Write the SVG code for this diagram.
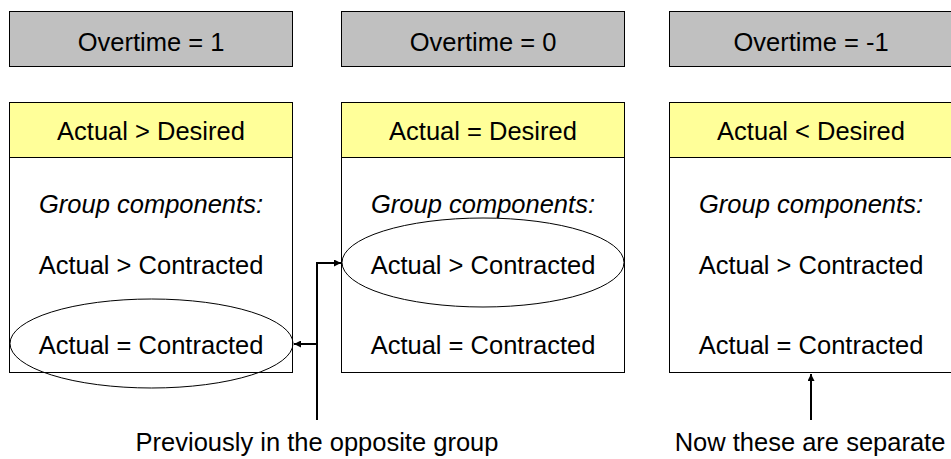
<svg xmlns="http://www.w3.org/2000/svg" width="951" height="459" viewBox="0 0 951 459">
<defs>
<style>
text{font-family:"Liberation Sans",Arial,sans-serif;font-size:25.5px;fill:#000;text-anchor:middle}
.it{font-style:italic}
.top{fill:#C0C0C0;stroke:#000;stroke-width:1}
.hdr{fill:#FFFF99;stroke:#000;stroke-width:1}
.body{fill:#fff;stroke:#000;stroke-width:1}
.ell{fill:none;stroke:#000;stroke-width:1}
.conn{fill:none;stroke:#000;stroke-width:2}
</style>
<marker id="ah" viewBox="0 0 10 10" refX="10" refY="5" markerWidth="4" markerHeight="3.5" orient="auto" markerUnits="strokeWidth">
<path d="M0,0 L10,5 L0,10 z" fill="#000"/>
</marker>
</defs>
<g id="ot1"><rect class="top" x="9.5" y="11.5" width="283" height="55"/><text x="151" y="51">Overtime = 1</text></g>
<g id="ot0"><rect class="top" x="341.5" y="11.5" width="283" height="55"/><text x="483" y="51">Overtime = 0</text></g>
<g id="otm1"><rect class="top" x="669.5" y="11.5" width="283" height="55"/><text x="811" y="51">Overtime = -1</text></g>

<g id="col1">
<rect class="body" x="9.5" y="102.5" width="283" height="270"/>
<rect class="hdr" x="9.5" y="102.5" width="283" height="55"/>
<text x="151" y="140">Actual &gt; Desired</text>
<text class="it" x="151" y="213">Group components:</text>
<text x="151" y="274">Actual &gt; Contracted</text>
<text x="151" y="354">Actual = Contracted</text>
<ellipse class="ell" cx="151.5" cy="343.5" rx="141.5" ry="44.5"/>
</g>
<g id="col2">
<rect class="body" x="341.5" y="102.5" width="283" height="270"/>
<rect class="hdr" x="341.5" y="102.5" width="283" height="55"/>
<text x="483" y="140">Actual = Desired</text>
<text class="it" x="483" y="213">Group components:</text>
<text x="483" y="274">Actual &gt; Contracted</text>
<text x="483" y="354">Actual = Contracted</text>
<ellipse class="ell" cx="483" cy="262.5" rx="141" ry="44.5"/>
</g>
<g id="col3">
<rect class="body" x="669.5" y="102.5" width="283" height="270"/>
<rect class="hdr" x="669.5" y="102.5" width="283" height="55"/>
<text x="811" y="140">Actual &lt; Desired</text>
<text class="it" x="811" y="213">Group components:</text>
<text x="811" y="274">Actual &gt; Contracted</text>
<text x="811" y="354">Actual = Contracted</text>
</g>

<g id="connectors">
<path class="conn" d="M317,420 V263 H341" marker-end="url(#ah)"/>
<path class="conn" d="M317,344 H294" marker-end="url(#ah)"/>
<path class="conn" d="M811,420 V374" marker-end="url(#ah)"/>
</g>

<g id="labels">
<text x="317" y="451">Previously in the opposite group</text>
<text x="810" y="451">Now these are separate</text>
</g>
</svg>
